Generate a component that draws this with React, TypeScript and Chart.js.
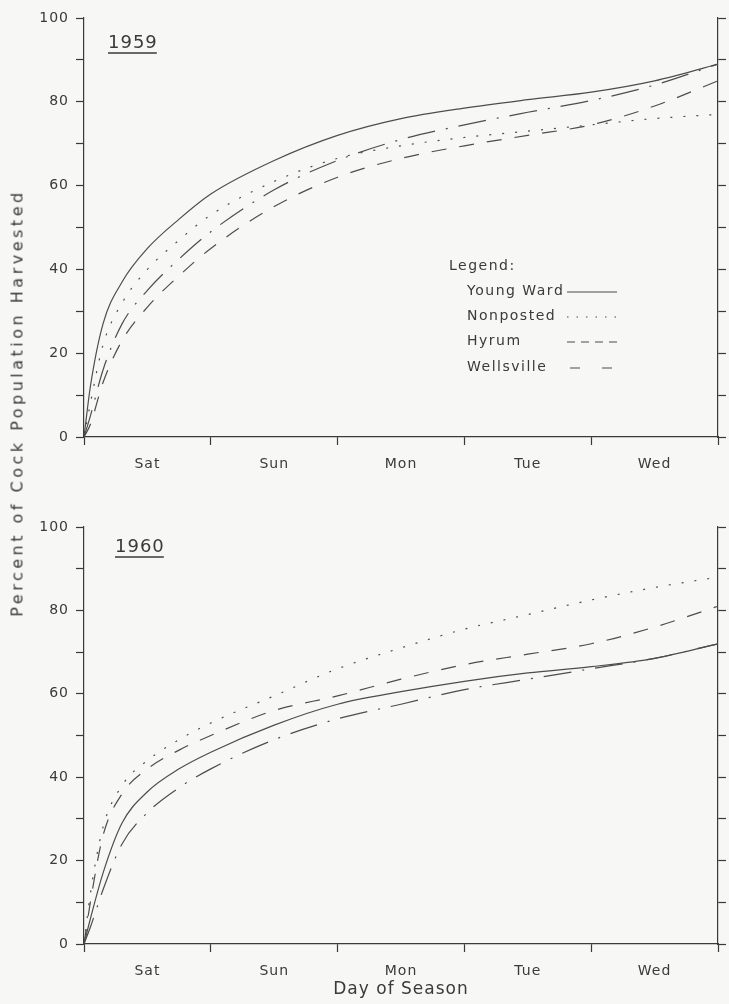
import React, { useEffect, useRef } from 'react';
import { Chart, registerables } from 'chart.js';

Chart.register(...registerables);

// ---------- data ----------
const DAYS = ['Sat', 'Sun', 'Mon', 'Tue', 'Wed'];
const X_TICKS = [0, 0.5, 1, 1.5, 2, 2.5, 3, 3.5, 4, 4.5, 5];
const X_POINTS = [0, 0.05, 0.15, 0.3, 0.5, 0.75, 1, 1.5, 2, 2.5, 3, 3.5, 4, 4.5, 5];
const SERIES_NAMES = ['Young Ward', 'Nonposted', 'Hyrum', 'Wellsville'];

const YOUNG_WARD_1959 = [0, 12, 27, 37, 45, 52, 58, 66, 72, 76, 78.5, 80.5, 82.3, 85, 89];
const NONPOSTED_1959 = [0, 8, 22, 32, 40, 47, 53, 61, 66.5, 69.5, 71.5, 73, 74.5, 76, 77];
const HYRUM_1959 = [0, 3, 13, 23, 31, 38.5, 45, 55, 62, 66.5, 69.5, 72, 74.5, 79, 85];
const WELLSVILLE_1959 = [0, 5, 16, 27, 35, 42.5, 49, 59, 66, 71, 74.5, 77.5, 80.3, 84, 89];

const YOUNG_WARD_1960 = [0, 6, 17, 29, 36.5, 42, 46, 52.5, 57.5, 60.5, 63, 65, 66.5, 68.5, 72];
const NONPOSTED_1960 = [0, 12, 28, 38, 44, 49, 53, 59.5, 66, 71, 75.5, 79, 82.5, 85.5, 88];
const HYRUM_1960 = [0, 10, 26, 36, 42, 46.5, 50, 56, 59.5, 63.5, 67, 69.5, 72, 76, 81];
const WELLSVILLE_1960 = [0, 4, 13, 24, 31.5, 37.5, 42, 49, 54, 57.5, 61, 63.5, 66, 68.5, 72];

// ---------- styles ----------
const INK = '#3a3a3a';
const LINE_INK = '#4d4d4d';
const FONT = '"DejaVu Sans", "Liberation Sans", sans-serif';
const DASHES: number[][] = [[], [2, 11], [15, 13], [28, 11, 2, 11]];
const LEGEND_DASHES: number[][] = [[], [1.5, 8], [8, 6], [10, 22]];

const makeDatasets = (series: number[][]) =>
  series.map((vals, i) => ({
    label: SERIES_NAMES[i],
    data: X_POINTS.map((x, k) => ({ x, y: vals[k] })),
    borderColor: LINE_INK,
    borderWidth: 1.2,
    borderDash: DASHES[i],
    pointRadius: 0,
    cubicInterpolationMode: 'monotone' as const,
    fill: false,
  }));

const spacingPlugin = {
  id: 'spacing',
  beforeLayout(chart: any) {
    chart.ctx.letterSpacing = '1px';
  },
  beforeDraw(chart: any) {
    chart.ctx.letterSpacing = '1px';
  },
};

const annotPlugin = (year: string, yx: number, yy: number, legend: boolean) => ({
  id: 'annot',
  afterDraw(chart: any) {
    const ctx = chart.ctx as CanvasRenderingContext2D;
    ctx.save();
    (ctx as any).letterSpacing = '1px';
    ctx.fillStyle = INK;
    ctx.strokeStyle = INK;
    ctx.font = `18px ${FONT}`;
    ctx.textAlign = 'left';
    ctx.textBaseline = 'middle';
    ctx.fillText(year, yx, yy);
    const w = ctx.measureText(year).width - 1;
    ctx.lineWidth = 1.6;
    ctx.beginPath();
    ctx.moveTo(yx, yy + 10);
    ctx.lineTo(yx + w, yy + 10);
    ctx.stroke();
    if (legend) {
      ctx.font = `14px ${FONT}`;
      (ctx as any).letterSpacing = '1.5px';
      ctx.fillText('Legend:', 449, 266);
      const ys = [291, 316, 341, 367];
      SERIES_NAMES.forEach((name, i) => {
        ctx.fillText(name, 467, ys[i]);
        ctx.save();
        ctx.lineWidth = 1.2;
        ctx.strokeStyle = LINE_INK;
        ctx.setLineDash(LEGEND_DASHES[i]);
        ctx.beginPath();
        ctx.moveTo(i === 3 ? 570 : 567, ys[i] + 1);
        ctx.lineTo(617, ys[i] + 1);
        ctx.stroke();
        ctx.restore();
      });
    }
    ctx.restore();
  },
});

const buildOptions = (padTop: number, xHeight: number, showTitle: boolean) => ({
  responsive: false,
  animation: false as const,
  devicePixelRatio: 1,
  layout: { padding: { top: padTop, left: 0, right: 0, bottom: 0 } },
  plugins: { legend: { display: false }, tooltip: { enabled: false }, title: { display: false } },
  scales: {
    x: {
      type: 'linear' as const,
      min: 0,
      max: 5,
      afterBuildTicks: (s: any) => {
        s.ticks = X_TICKS.map((v) => ({ value: v }));
      },
      afterFit: (s: any) => {
        s.height = xHeight;
      },
      ticks: {
        autoSkip: false,
        maxRotation: 0,
        padding: 11,
        color: INK,
        font: { family: FONT, size: 14 },
        callback: (v: number) => (Math.abs(v - Math.round(v)) > 0.1 ? DAYS[Math.floor(v)] : ''),
      },
      grid: {
        drawOnChartArea: false,
        tickLength: 8,
        tickWidth: 1.2,
        tickColor: (c: any) =>
          c.tick && Math.abs(c.tick.value - Math.round(c.tick.value)) < 0.01 ? INK : 'rgba(0,0,0,0)',
      },
      border: { color: INK, width: 1.2 },
      title: {
        display: showTitle,
        text: 'Day of Season',
        color: INK,
        font: { family: FONT, size: 17 },
        padding: { top: 0, bottom: 4 },
      },
    },
    y: {
      type: 'linear' as const,
      position: 'left' as const,
      min: 0,
      max: 100,
      afterFit: (s: any) => {
        s.width = 84;
      },
      ticks: {
        stepSize: 10,
        padding: 7,
        color: INK,
        font: { family: FONT, size: 14 },
        callback: (v: number) => (v % 20 === 0 ? String(v) : ''),
      },
      grid: { drawOnChartArea: false, tickLength: 8, tickWidth: 1.2, tickColor: INK },
      border: { color: INK, width: 1.2 },
    },
    y2: {
      type: 'linear' as const,
      position: 'right' as const,
      min: 0,
      max: 100,
      afterFit: (s: any) => {
        s.width = 11;
      },
      ticks: { stepSize: 10, padding: 0, font: { size: 1 }, callback: () => '' },
      grid: { drawOnChartArea: false, tickLength: 8, tickWidth: 1.2, tickColor: INK },
      border: { color: INK, width: 1.2 },
    },
  },
});

function Panel(props: {
  top: number;
  height: number;
  padTop: number;
  xHeight: number;
  series: number[][];
  year: string;
  yearX: number;
  yearY: number;
  legend: boolean;
  showTitle: boolean;
}) {
  const ref = useRef<HTMLCanvasElement>(null);
  useEffect(() => {
    if (!ref.current) return;
    const chart = new Chart(ref.current, {
      type: 'line',
      data: { datasets: makeDatasets(props.series) as any },
      options: buildOptions(props.padTop, props.xHeight, props.showTitle) as any,
      plugins: [spacingPlugin, annotPlugin(props.year, props.yearX, props.yearY, props.legend)],
    });
    return () => chart.destroy();
  }, []);
  return (
    <canvas
      ref={ref}
      width={729}
      height={props.height}
      style={{ position: 'absolute', left: 0, top: props.top, width: 729, height: props.height }}
    />
  );
}

export default function App() {
  return (
    <div
      style={{
        position: 'absolute',
        left: 0,
        top: 0,
        width: 729,
        height: 1004,
        background: '#f7f7f6',
        overflow: 'hidden',
      }}
    >
      <Panel
        top={0}
        height={480}
        padTop={18}
        xHeight={43}
        series={[YOUNG_WARD_1959, NONPOSTED_1959, HYRUM_1959, WELLSVILLE_1959]}
        year="1959"
        yearX={108}
        yearY={43}
        legend={true}
        showTitle={false}
      />
      <Panel
        top={480}
        height={524}
        padTop={47}
        xHeight={60}
        series={[YOUNG_WARD_1960, NONPOSTED_1960, HYRUM_1960, WELLSVILLE_1960]}
        year="1960"
        yearX={115}
        yearY={67}
        legend={false}
        showTitle={true}
      />
      <div
        style={{
          position: 'absolute',
          left: 17,
          top: 403,
          transform: 'translate(-50%, -50%) rotate(-90deg)',
          whiteSpace: 'nowrap',
          fontFamily: FONT,
          fontSize: 16,
          letterSpacing: '3.5px',
          color: INK,
        }}
      >
        Percent of Cock Population Harvested
      </div>
    </div>
  );
}
